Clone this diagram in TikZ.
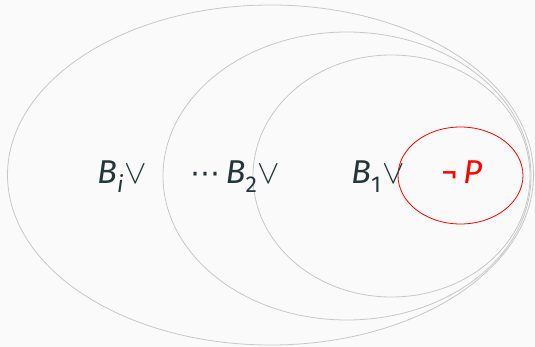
\documentclass[tikz,border=0pt]{standalone}
\usepackage{fontspec}
\setmainfont{Fira Sans}
\newfontfamily\symfont{DejaVu Sans}
\usetikzlibrary{shapes.geometric,positioning}
\definecolor{bgcol}{HTML}{FAFAFA}
\definecolor{dteal}{HTML}{23373B}
\newcommand{\orsym}{\kern1pt\scalebox{1.35}{$\vee$}}
\newcommand{\subtx}[1]{\raisebox{-0.25em}{\fontsize{23}{23}\selectfont #1}}

\begin{document}
\begin{tikzpicture}[x=1pt,y=-1pt]
  \tikzset{ring/.style={draw=black!22,line width=0.8pt,ellipse,inner sep=0pt},
           lbl/.style={text=dteal,anchor=base west,inner sep=0pt,font=\fontsize{33}{33}\selectfont}}
  \fill[bgcol] (0,0) rectangle (535,347);
  \useasboundingbox (0,0) rectangle (535,347);
  \node[ring,minimum width=526pt,minimum height=340pt] (outer) at (270.5,175) {};
  \node[ring,minimum width=368pt,minimum height=288pt] (middle) at (347,176) {};
  \node[ring,minimum width=277pt,minimum height=242pt] (inner) at (391.5,176) {};
  \node[draw=red,line width=0.8pt,ellipse,inner sep=0pt,minimum width=125pt,minimum height=97pt] (negp) at (460.5,175.5) {};
  % labels
  \node[lbl] (bi) at (97,184) {\textit{B}\subtx{\textit{i}}\orsym};
  \node[lbl] (b2) at (190,184) {{\symfont\fontsize{30}{30}\selectfont ⋯}\,\textit{B}\subtx{2}\orsym};
  \node[lbl] (b1) at (351,184) {\textit{B}\subtx{1}\orsym};
  \node[lbl,text=red] (np) at (441,184) {¬\,\textit{P}};
\end{tikzpicture}
\end{document}
